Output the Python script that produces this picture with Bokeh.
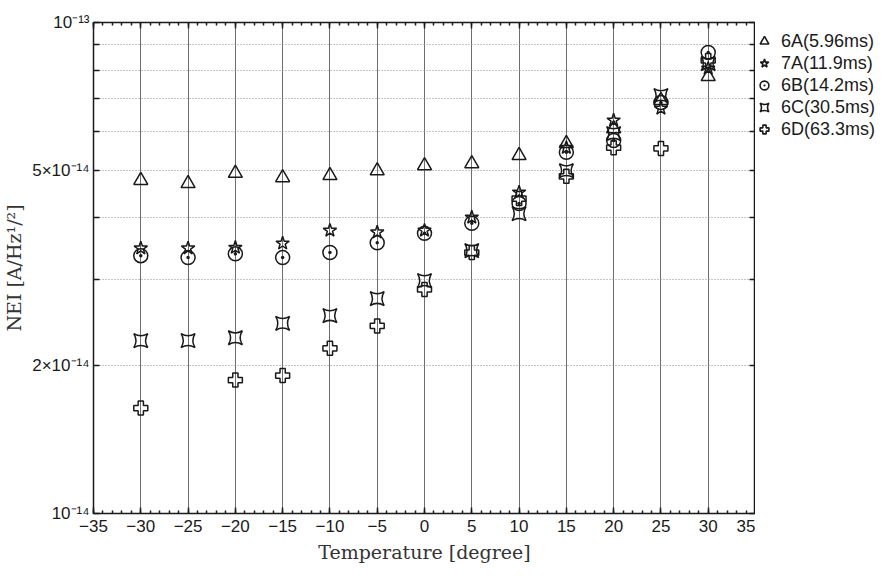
import numpy as np
from bokeh.plotting import figure
from bokeh.layouts import row
from bokeh.models import (LinearAxis, LogAxis, FixedTicker, SingleIntervalTicker,
                          CustomJSTickFormatter, Legend, LegendItem, Range1d)
from bokeh.embed import file_html
from bokeh.resources import INLINE

# ---- data (NEI in A/Hz^1/2) ----
temps = [-30, -25, -20, -15, -10, -5, 0, 5, 10, 15, 20, 25, 30]
nei_6A = [4.77e-14, 4.70e-14, 4.93e-14, 4.83e-14, 4.88e-14, 4.99e-14, 5.11e-14,
          5.16e-14, 5.36e-14, 5.67e-14, 6.08e-14, 6.94e-14, 7.76e-14]
nei_7A = [3.47e-14, 3.47e-14, 3.48e-14, 3.55e-14, 3.77e-14, 3.74e-14, 3.77e-14,
          4.01e-14, 4.51e-14, 5.56e-14, 6.32e-14, 6.68e-14, 8.06e-14]
nei_6B = [3.35e-14, 3.32e-14, 3.38e-14, 3.32e-14, 3.40e-14, 3.56e-14, 3.72e-14,
          3.90e-14, 4.28e-14, 5.44e-14, 5.75e-14, 6.87e-14, 8.69e-14]
nei_6C = [2.25e-14, 2.25e-14, 2.28e-14, 2.44e-14, 2.53e-14, 2.74e-14, 2.98e-14,
          3.43e-14, 4.08e-14, 4.99e-14, 5.94e-14, 7.10e-14, 8.25e-14]
nei_6D = [1.64e-14, np.nan, 1.87e-14, 1.91e-14, 2.17e-14, 2.41e-14, 2.86e-14,
          3.40e-14, 4.38e-14, 4.86e-14, 5.56e-14, 5.54e-14, 8.37e-14]

series_labels = ["6A(5.96ms)", "7A(11.9ms)", "6B(14.2ms)", "6C(30.5ms)", "6D(63.3ms)"]
series_values = [nei_6A, nei_7A, nei_6B, nei_6C, nei_6D]
series_markers = ["triangle", "star", "circle_dot", "square_pin", "plus"]

y_major = [1e-14, 2e-14, 5e-14, 1e-13]
y_minor = [3e-14, 4e-14, 6e-14, 7e-14, 8e-14, 9e-14]
y_grid = [2e-14, 3e-14, 4e-14, 5e-14, 6e-14, 7e-14, 8e-14, 9e-14]

x_label = "Temperature [degree]"
y_label = "NEI [A/Hz¹/²]"

TICK_FONT = "Liberation Sans"
LABEL_FONT = "DejaVu Serif"
INK = "#1a1a1a"

p = figure(frame_width=662, frame_height=491,
           x_range=Range1d(-35, 35), y_range=Range1d(1e-14, 1e-13),
           y_axis_type="log", output_backend="svg", toolbar_location=None,
           min_border_left=91, min_border_top=22, min_border_bottom=67,
           min_border_right=0)
p.background_fill_color = "white"
p.border_fill_color = "white"
p.outline_line_color = INK
p.outline_line_width = 1.5

x_fmt = CustomJSTickFormatter(code="return tick < 0 ? '\u2212' + Math.abs(tick) : '' + tick;")
y_fmt = CustomJSTickFormatter(code="""
const sup = {'0':'⁰','1':'¹','2':'²','3':'³','4':'⁴','5':'⁵','6':'⁶','7':'⁷','8':'⁸','9':'⁹','-':'⁻'};
const e = Math.floor(Math.log10(tick) + 1e-9);
const m = Math.round(tick / Math.pow(10, e));
const es = String(e).split('').map(c => sup[c]).join('');
return (m == 1 ? '' : m + '×') + '10' + es;
""")
blank_fmt = CustomJSTickFormatter(code="return '';")

def style_axis(ax, minor_len):
    ax.axis_line_color = None
    ax.major_tick_in = 6
    ax.major_tick_out = 0
    ax.minor_tick_in = minor_len
    ax.minor_tick_out = 0
    ax.major_tick_line_color = INK
    ax.minor_tick_line_color = INK
    ax.major_tick_line_width = 1.5
    ax.minor_tick_line_width = 1.5
    ax.major_label_text_font = TICK_FONT
    ax.major_label_text_font_size = "17px"
    ax.major_label_text_color = INK
    ax.axis_label_text_font = LABEL_FONT
    ax.axis_label_text_font_style = "normal"
    ax.axis_label_text_color = "#333333"

xb = p.xaxis[0]
xb.ticker = SingleIntervalTicker(interval=5, num_minor_ticks=5)
xb.formatter = x_fmt
style_axis(xb, 3)
xb.major_label_standoff = 6
xb.axis_label = x_label
xb.axis_label_text_font_size = "19px"
xb.axis_label_standoff = 6

yl = p.yaxis[0]
yl.ticker = FixedTicker(ticks=y_major, minor_ticks=y_minor)
yl.formatter = y_fmt
style_axis(yl, 6)
yl.major_label_standoff = 4
yl.axis_label = y_label
yl.axis_label_text_font_size = "19px"
yl.axis_label_standoff = 4

xt = LinearAxis(ticker=SingleIntervalTicker(interval=5, num_minor_ticks=5), formatter=blank_fmt)
style_axis(xt, 3)
xt.major_label_standoff = 0
p.add_layout(xt, "above")

yr = LogAxis(ticker=FixedTicker(ticks=y_major, minor_ticks=y_minor), formatter=blank_fmt)
style_axis(yr, 6)
yr.major_label_standoff = 0
p.add_layout(yr, "right")

p.xgrid.ticker = SingleIntervalTicker(interval=5)
p.xgrid.grid_line_color = "#6e6e6e"
p.xgrid.grid_line_width = 1
p.ygrid.ticker = FixedTicker(ticks=y_grid)
p.ygrid.grid_line_color = "#8a8a8a"
p.ygrid.grid_line_dash = "1 2"
p.ygrid.grid_line_width = 1.2

# separate small panel that only holds the legend
lg = figure(width=134, height=580, x_range=Range1d(0, 1), y_range=Range1d(0, 1),
            output_backend="svg", toolbar_location=None,
            x_axis_location=None, y_axis_location=None, min_border=0)
lg.outline_line_color = None
lg.grid.visible = False
lg.background_fill_color = "white"
lg.border_fill_color = "white"

items = []
for lab, vals, mk in zip(series_labels, series_values, series_markers):
    p.scatter(temps, vals, marker=mk, size=14, fill_color=None,
              line_color=INK, line_width=1.5)
    proxy = lg.scatter([np.nan], [np.nan], marker=mk, size=14, fill_color=None,
                       line_color=INK, line_width=1.6)
    items.append(LegendItem(label=lab, renderers=[proxy]))

legend = Legend(items=items, border_line_color=None,
                background_fill_alpha=0, label_text_font=TICK_FONT,
                label_text_font_size="18px", label_text_color=INK,
                spacing=0, glyph_height=22, glyph_width=22, label_height=22,
                label_standoff=6, padding=0, margin=0)
legend.location = (-2, 373)
lg.add_layout(legend, "center")

layout = row(p, lg, spacing=0)
open("out.html", "w").write(file_html(layout, INLINE))
